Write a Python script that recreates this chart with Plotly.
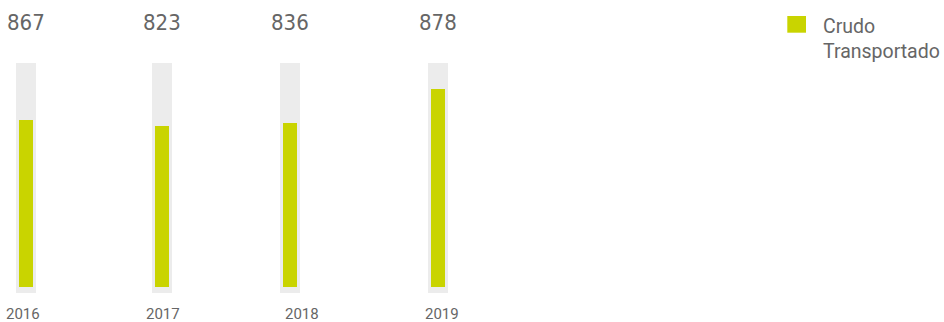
import plotly.graph_objects as go

# ---- data ----
years = ["2016", "2017", "2018", "2019"]
crudo_transportado = [867, 823, 836, 878]          # value labels
bar_fill_pct = [74.6, 71.9, 73.2, 88.4]            # bar fill as % of track
track_max = [100, 100, 100, 100]
series_name = "Crudo<br>Transportado"

# ---- layout constants ----
W, H = 944, 322
ML, MR, MT, MB = 0, 184, 63, 29
plot_w = W - ML - MR
plot_h = H - MT - MB
px_per_cat = 139.5
x0_px = 23
x_lo = -x0_px / px_per_cat
x_hi = x_lo + plot_w / px_per_cat
track_base = -2.68
bar_shift_px = [3, -0.5, -12, -3.5]
track_w = 20 / px_per_cat
fill_w = 14 / px_per_cat

GREEN = "#c9d400"
TRACK = "#ececec"
TEXT = "#666666"

fig = go.Figure()
fig.add_trace(go.Bar(
    x=years, y=[t - track_base for t in track_max], base=track_base,
    width=track_w,
    offset=[s / px_per_cat - track_w / 2 for s in bar_shift_px],
    marker=dict(color=TRACK, line=dict(width=0)),
    hoverinfo="skip", showlegend=False,
))
fig.add_trace(go.Bar(
    x=years, y=bar_fill_pct, name=series_name,
    width=fill_w,
    offset=[s / px_per_cat - fill_w / 2 for s in bar_shift_px],
    marker=dict(color=GREEN, line=dict(width=0)),
    showlegend=False,
))

annotations = []
for i, (yr, v) in enumerate(zip(years, crudo_transportado)):
    annotations.append(dict(
        x=i, xref="x", y=(H - MB - 23) / plot_h, yref="paper",
        text=str(v), showarrow=False, xanchor="center", yanchor="middle",
        xshift=bar_shift_px[i],
        font=dict(family="Liberation Sans Narrow, DejaVu Sans Condensed", size=22, color=TEXT),
    ))
    annotations.append(dict(
        x=i, xref="x", y=-(313.7 - (H - MB)) / plot_h, yref="paper",
        text=yr, showarrow=False, xanchor="center", yanchor="middle",
        font=dict(family="Roboto", size=15, color=TEXT),
    ))

# legend (manual)
annotations.append(dict(
    x=(821 - ML) / plot_w, xref="paper", y=(H - MB - 39.2) / plot_h, yref="paper",
    text=series_name, showarrow=False, xanchor="left", yanchor="middle", align="left",
    font=dict(family="Roboto", size=19.5, color=TEXT),
))
shapes = [dict(
    type="rect", xref="paper", yref="paper",
    x0=(787.3 - ML) / plot_w, x1=(806 - ML) / plot_w,
    y0=(H - MB - 32.7) / plot_h, y1=(H - MB - 16) / plot_h,
    fillcolor=GREEN, line=dict(width=0),
)]

fig.update_layout(
    width=W, height=H,
    margin=dict(l=ML, r=MR, t=MT, b=MB),
    paper_bgcolor="white", plot_bgcolor="white",
    barmode="overlay", showlegend=False, hovermode=False,
    annotations=annotations, shapes=shapes,
    xaxis=dict(type="category", categoryorder="array", categoryarray=years,
               range=[x_lo, x_hi], showticklabels=False, showgrid=False,
               zeroline=False, showline=False, ticks="", fixedrange=True),
    yaxis=dict(range=[track_base, 100], visible=False, showgrid=False,
               zeroline=False, fixedrange=True),
)

fig.write_html(
    "out.html",
    config={"displayModeBar": False, "staticPlot": True},
    post_script="document.body.style.margin='0';document.body.style.overflow='hidden';",
)
